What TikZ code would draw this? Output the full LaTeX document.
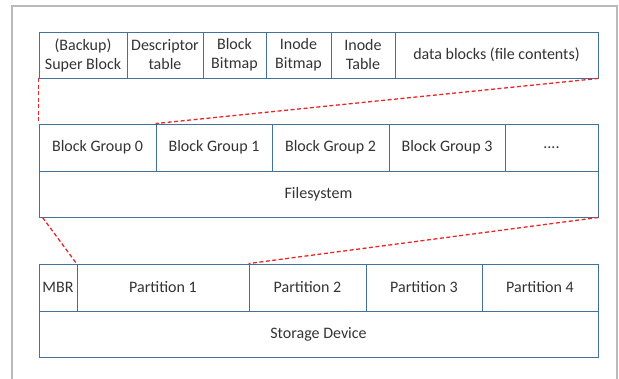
\documentclass[tikz,border=0pt]{standalone}
\usepackage{fontspec}
\setmainfont{Carlito}
\begin{document}
\begin{tikzpicture}[x=1pt,y=-1pt,
  cell/.style={draw=boxblue,line width=0.9pt,inner sep=0pt},
  lbl/.style={text=txt,font=\fontsize{16}{19}\selectfont,align=center,inner sep=0pt},
  zoomline/.style={draw=zred,dashed,dash pattern=on 4pt off 2.5pt,line width=1.3pt}]
\definecolor{boxblue}{HTML}{41719C}
\definecolor{txt}{HTML}{333333}
\definecolor{zred}{HTML}{E8262A}
\useasboundingbox (0,0) rectangle (619,379);
\draw[draw=black!27,line width=1.8pt] (12,6) rectangle (617,385);
\newcommand{\cellbox}[5]{\node[cell,minimum width={#3-#2},minimum height={#5-#4}] (#1) at ({(#2+#3)/2},{(#4+#5)/2}) {};}
% top row
\cellbox{sb}{39}{127}{32}{78}
\cellbox{dt}{127}{203}{32}{78}
\cellbox{bb}{203}{266}{32}{78}
\cellbox{ib}{266}{331}{32}{78}
\cellbox{it}{331}{395}{32}{78}
\cellbox{db}{395}{598}{32}{78}
\node[lbl] at (sb) {(Backup)\\Super Block};
\node[lbl] at (dt) {Descriptor\\table};
\node[lbl] at (bb) {Block\\Bitmap};
\node[lbl] at (ib) {Inode\\Bitmap};
\node[lbl] at (it) {Inode\\Table};
\node[lbl] at (db) {data blocks (file contents)};
% block groups
\cellbox{bg0}{39}{156}{124}{171}
\cellbox{bg1}{156}{272}{124}{171}
\cellbox{bg2}{272}{389}{124}{171}
\cellbox{bg3}{389}{505}{124}{171}
\cellbox{bgd}{505}{598}{124}{171}
\cellbox{fs}{39}{598}{171}{217}
\node[lbl] at (bg0) {Block Group 0};
\node[lbl] at (bg1) {Block Group 1};
\node[lbl] at (bg2) {Block Group 2};
\node[lbl] at (bg3) {Block Group 3};
\node[lbl] at (bgd) {....};
\node[lbl] at (fs) {Filesystem};
% partitions
\cellbox{mbr}{39}{77}{264}{311}
\cellbox{p1}{77}{249}{264}{311}
\cellbox{p2}{249}{366}{264}{311}
\cellbox{p3}{366}{482}{264}{311}
\cellbox{p4}{482}{598}{264}{311}
\cellbox{sd}{39}{598}{311}{357}
\node[lbl] at (mbr) {MBR};
\node[lbl] at (p1) {Partition 1};
\node[lbl] at (p2) {Partition 2};
\node[lbl] at (p3) {Partition 3};
\node[lbl] at (p4) {Partition 4};
\node[lbl] at (sd) {Storage Device};
% zoom lines
\draw[zoomline] (sb.south west) -- (bg0.north west);
\draw[zoomline] (db.south east) -- (bg1.north west);
\draw[zoomline] ([xshift=4pt]fs.south west) -- (p1.north west);
\draw[zoomline] (fs.south east) -- (p2.north west);
\end{tikzpicture}
\end{document}
